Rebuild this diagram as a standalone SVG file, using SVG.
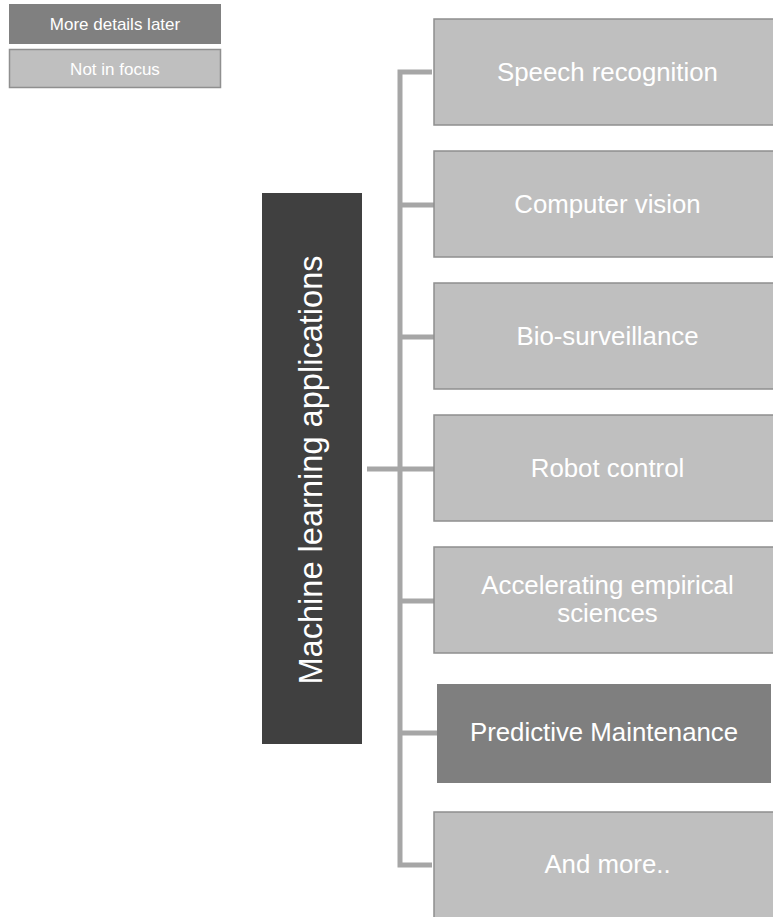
<svg xmlns="http://www.w3.org/2000/svg" width="773" height="917" viewBox="0 0 773 917">
<style>
.box{fill:#bfbfbf;stroke:#8f8f8f;stroke-width:1.5}
.t{font-family:"Liberation Sans",Arial,sans-serif;fill:#ffffff;text-anchor:middle}
.bt{font-size:25.8px}
.lt{font-size:17px}
.con{stroke:#a6a6a6;stroke-width:5;fill:none}
</style>
<rect width="773" height="917" fill="#ffffff"/>
<g id="legend">
<g id="legend-more">
<rect x="9" y="4" width="212" height="40" fill="#808080"/>
<text class="t lt" x="115" y="30">More details later</text>
</g>
<g id="legend-notfocus">
<rect x="9.5" y="49.5" width="211" height="38" fill="#bfbfbf" stroke="#8f8f8f" stroke-width="1.5"/>
<text class="t lt" x="115" y="75">Not in focus</text>
</g>
</g>
<g id="connectors">
<path class="con" d="M432 72 H400 V865 H432"/>
<path class="con" d="M367 469 H434"/>
<path class="con" d="M400 205 H434 M400 337 H434 M400 601 H434 M400 733 H437"/>
</g>
<g id="root">
<rect x="262" y="193" width="100" height="551" fill="#404040"/>
<text class="t" font-size="32.6" transform="translate(322 470) rotate(-90)">Machine learning applications</text>
</g>
<g id="n1"><rect class="box" x="434" y="19" width="350" height="106"/><text class="t bt" x="607.5" y="81">Speech recognition</text></g>
<g id="n2"><rect class="box" x="434" y="151" width="350" height="106"/><text class="t bt" x="607.5" y="213">Computer vision</text></g>
<g id="n3"><rect class="box" x="434" y="283" width="350" height="106"/><text class="t bt" x="607.5" y="345">Bio-surveillance</text></g>
<g id="n4"><rect class="box" x="434" y="415" width="350" height="106"/><text class="t bt" x="607.5" y="477">Robot control</text></g>
<g id="n5"><rect class="box" x="434" y="547" width="350" height="106"/><text class="t bt" x="607.5" y="594">Accelerating empirical</text><text class="t bt" x="607.5" y="622">sciences</text></g>
<g id="n6"><rect x="437" y="684" width="334" height="99" fill="#7f7f7f"/><text class="t bt" x="604" y="741">Predictive Maintenance</text></g>
<g id="n7"><rect class="box" x="434" y="812" width="350" height="106"/><text class="t bt" x="607.5" y="873">And more..</text></g>
</svg>
